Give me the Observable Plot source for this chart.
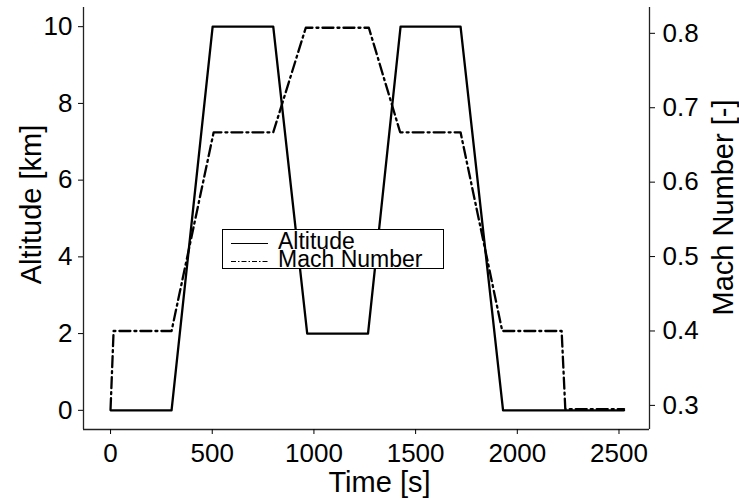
<!DOCTYPE html>
<html>
<head>
<meta charset="utf-8">
<script src="https://cdn.jsdelivr.net/npm/d3@7"></script>
<script src="https://cdn.jsdelivr.net/npm/@observablehq/plot@0.6"></script>
<style>
  html, body { margin: 0; padding: 0; background: #fff; }
  #chart { position: relative; width: 739px; height: 500px; font-family: "Liberation Sans", Arial, Helvetica, sans-serif; }
  #legend { position: absolute; left: 222px; top: 229px; width: 220px; height: 38px; border: 1px solid #000; background: #fff; }
  #legend svg { overflow: visible; }
</style>
</head>
<body>
<div id="chart"><div id="legend"></div></div>
<script>
// ---- data ----
const altTime = [0, 300, 502, 800, 967, 1266, 1426, 1721, 1930, 2525];
const altKm   = [0, 0, 10, 10, 2, 2, 10, 10, 0, 0];

const machTime = [0, 15, 300, 507, 800, 960, 1270, 1424, 1721, 1926, 2218, 2236, 2525];
const machVal  = [0.295, 0.4, 0.4, 0.667, 0.667, 0.8075, 0.8075, 0.667, 0.667, 0.4, 0.4, 0.295, 0.295];

const xTicks = [0, 500, 1000, 1500, 2000, 2500];
const altTicks = [0, 2, 4, 6, 8, 10];
const machTicks = [0.3, 0.4, 0.5, 0.6, 0.7, 0.8];

const xDomain = [-133, 2650];
const altDomain = [-0.5, 10.5];
const machDomain = [0.2676, 0.8347];

const xLabel = ["Time [s]"];
const altLabel = ["Altitude [km]"];
const machLabel = ["Mach Number [-]"];
const seriesNames = ["Altitude", "Mach Number"];

// ---- build ----
const altData = altTime.map((t, i) => ({t, v: altKm[i]}));
const machData = machTime.map((t, i) => ({t, v: machVal[i]}));
const toAlt = d3.scaleLinear().domain(machDomain).range(altDomain);
const font = "Liberation Sans, Arial, Helvetica, sans-serif";

const plot = Plot.plot({
  width: 739,
  height: 500,
  marginLeft: 83,
  marginRight: 90,
  marginTop: 7,
  marginBottom: 71,
  style: {fontFamily: font, color: "#000", background: "transparent"},
  x: {domain: xDomain},
  y: {domain: altDomain},
  marks: [
    Plot.ruleX([xDomain[0]], {stroke: "#222", strokeWidth: 1.3}),
    Plot.ruleX([xDomain[1]], {stroke: "#222", strokeWidth: 1.3}),
    Plot.ruleY([altDomain[0]], {stroke: "#222", strokeWidth: 1.3}),
    Plot.axisX({ticks: xTicks, tickSize: 5, tickPadding: 9, fontSize: 26, label: null, tickFormat: d3.format("d")}),
    Plot.axisY({anchor: "left", ticks: altTicks, tickSize: 5, tickPadding: 6, fontSize: 26, label: null, tickFormat: d3.format("d")}),
    Plot.axisY({anchor: "right", ticks: machTicks.map(m => toAlt(m)), tickSize: 5, tickPadding: 8, fontSize: 26, label: null,
                tickFormat: d => d3.format(".1f")(toAlt.invert(d))}),
    Plot.line(altData, {x: "t", y: "v", stroke: "#000", strokeWidth: 2.3, strokeLinejoin: "round"}),
    Plot.line(machData, {x: "t", y: d => toAlt(d.v), stroke: "#000", strokeWidth: 2.3, strokeLinejoin: "round", strokeDasharray: "11,4,2,4"}),
    Plot.text(xLabel, {text: d => d, frameAnchor: "bottom", textAnchor: "middle", lineAnchor: "middle", dx: 13, dy: 53, fontSize: 29}),
    Plot.text(altLabel, {text: d => d, frameAnchor: "left", textAnchor: "middle", lineAnchor: "middle", rotate: -90, dx: -52, dy: -14, fontSize: 29}),
    Plot.text(machLabel, {text: d => d, frameAnchor: "right", textAnchor: "middle", lineAnchor: "middle", rotate: -90, dx: 74, dy: -11, fontSize: 29})
  ]
});
document.getElementById("chart").insertBefore(plot, document.getElementById("legend"));

// legend
const lg = d3.select("#legend").append("svg").attr("width", 220).attr("height", 38).style("display", "block");
const dashes = [null, "5,2,1.5,2"];
seriesNames.forEach((name, i) => {
  const yl = i === 0 ? 13.5 : 31.5;
  lg.append("line").attr("x1", 8).attr("x2", 45).attr("y1", yl).attr("y2", yl)
    .attr("stroke", "#000").attr("stroke-width", 1.1).attr("stroke-dasharray", dashes[i]);
  lg.append("text").attr("x", 55).attr("y", i === 0 ? 19 : 37).attr("font-size", 23)
    .attr("font-family", font).attr("fill", "#000").text(name);
});
</script>
</body>
</html>
